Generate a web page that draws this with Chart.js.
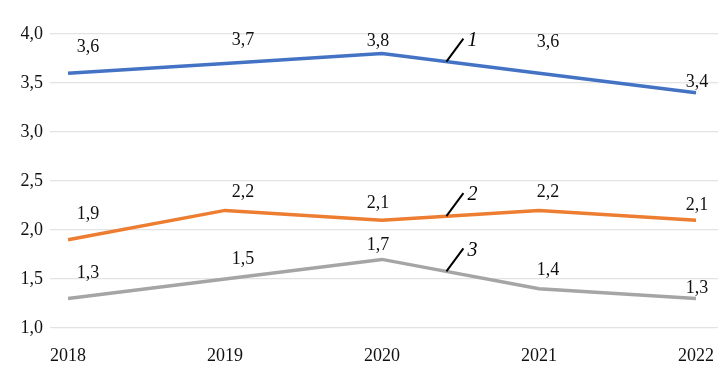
<!DOCTYPE html>
<html>
<head>
<meta charset="utf-8">
<script src="https://cdn.jsdelivr.net/npm/chart.js@4"></script>
<style>
  html, body { margin: 0; padding: 0; background: #fff; }
  #wrap { width: 728px; height: 372px; }
</style>
</head>
<body>
<div id="wrap"><canvas id="chart"></canvas></div>
<script>
const years = [2018, 2019, 2020, 2021, 2022];
const series1 = [3.6, 3.7, 3.8, 3.6, 3.4];
const series2 = [1.9, 2.2, 2.1, 2.2, 2.1];
const series3 = [1.3, 1.5, 1.7, 1.4, 1.3];
const seriesNames = ['1', '2', '3'];
const colors = ['#4472C4', '#ED7D31', '#A5A5A5'];

const fmt = v => v.toFixed(1).replace('.', ',');
const serif = '"Liberation Serif", "Times New Roman", serif';

// pixel offsets of value labels, per series / point
const labelOffsets = [
    [[20, -26], [18, -23], [-4, -12], [9, -31], [1, -11]],
    [[20, -26], [18, -18], [-4, -17], [9, -18], [1, -15]],
    [[20, -25], [18, -20], [-4, -14], [9, -19], [1, -10]]
];
// where the leader line for the series number starts (in years)
const leaderX = 2020.41;

const toPoints = arr => arr.map((v, i) => ({ x: years[i], y: v }));

const labelsPlugin = {
    id: 'labels',
    afterDatasetsDraw(chart) {
        const ctx = chart.ctx;
        const xs = chart.scales.x, ys = chart.scales.y;
        ctx.save();
        ctx.textAlign = 'center';
        ctx.textBaseline = 'middle';
        chart.data.datasets.forEach((ds, s) => {
            ctx.font = '18px ' + serif;
            ctx.fillStyle = '#111';
            ds.data.forEach((p, i) => {
                const px = xs.getPixelForValue(p.x) + labelOffsets[s][i][0];
                const py = ys.getPixelForValue(p.y) + labelOffsets[s][i][1];
                ctx.fillText(fmt(p.y), px, py);
            });
            // leader + series number
            const d = ds.data;
            const yv = d[2].y + (d[3].y - d[2].y) * (leaderX - 2020);
            const lx = xs.getPixelForValue(leaderX);
            const ly = ys.getPixelForValue(yv);
            ctx.strokeStyle = '#000';
            ctx.lineWidth = 2;
            ctx.beginPath();
            ctx.moveTo(lx, ly);
            ctx.lineTo(lx + 17, ly - 23);
            ctx.stroke();
            ctx.font = 'italic 20px ' + serif;
            ctx.fillStyle = '#000';
            ctx.fillText(seriesNames[s], lx + 26, ly - 21);
        });
        ctx.restore();
    }
};

const ctx = document.getElementById('chart').getContext('2d');
new Chart(ctx, {
    type: 'line',
    data: {
        datasets: [series1, series2, series3].map((arr, i) => ({
            label: seriesNames[i],
            data: toPoints(arr),
            borderColor: colors[i],
            borderWidth: 3.5,
            pointRadius: 0,
            tension: 0,
            fill: false
        }))
    },
    options: {
        responsive: true,
        maintainAspectRatio: false,
        animation: false,
        layout: { padding: { top: 34, right: 10, left: 0, bottom: 0 } },
        plugins: {
            legend: { display: false },
            tooltip: { enabled: false }
        },
        scales: {
            x: {
                type: 'linear',
                min: 2017.885,
                max: 2022.14,
                afterBuildTicks: axis => { axis.ticks = years.map(v => ({ value: v })); },
                afterFit: axis => { axis.height = 44; },
                grid: { display: false },
                border: { display: false },
                ticks: {
                    color: '#111',
                    padding: 9,
                    maxRotation: 0,
                    font: { family: serif, size: 18 },
                    callback: v => String(v)
                }
            },
            y: {
                min: 1,
                max: 4,
                afterFit: axis => { axis.width = 50; },
                grid: { color: '#e3e3e3', lineWidth: 1.2, drawTicks: false },
                border: { display: false },
                ticks: {
                    stepSize: 0.5,
                    color: '#111',
                    padding: 7,
                    font: { family: serif, size: 18 },
                    callback: v => fmt(v)
                }
            }
        }
    },
    plugins: [labelsPlugin]
});
</script>
</body>
</html>
